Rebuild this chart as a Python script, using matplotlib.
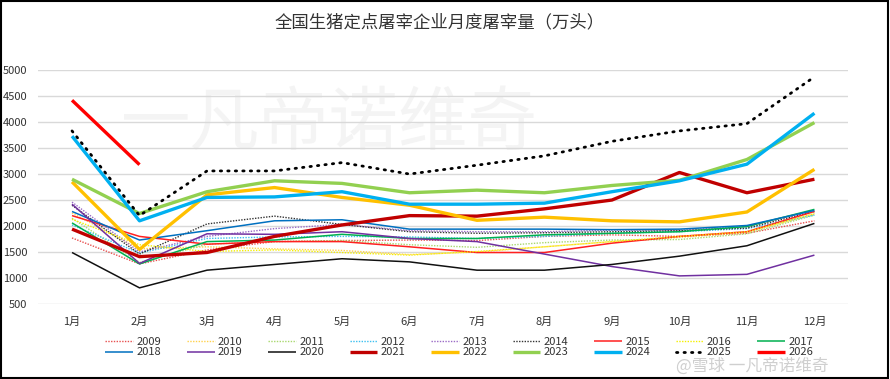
import matplotlib
matplotlib.use("Agg")
import matplotlib.pyplot as plt
from matplotlib.patches import Rectangle

plt.rcParams['font.family'] = ['Noto Sans CJK SC', 'DejaVu Sans']

months = ['1月', '2月', '3月', '4月', '5月', '6月', '7月', '8月', '9月', '10月', '11月', '12月']

y2009 = [1770, 1270, 1540, 1700, 1720, 1730, 1720, 1800, 1830, 1800, 1860, 2100]
y2010 = [2250, 1560, 1600, 1560, 1530, 1450, 1500, 1600, 1700, 1780, 1880, 2230]
y2011 = [2150, 1300, 1650, 1700, 1720, 1640, 1590, 1680, 1730, 1740, 1850, 2210]
y2012 = [2020, 1480, 1760, 1790, 1800, 1790, 1760, 1800, 1860, 1890, 1950, 2210]
y2013 = [2460, 1500, 1800, 1950, 2030, 1910, 1890, 1890, 1920, 1920, 1990, 2300]
y2014 = [2400, 1460, 2040, 2190, 2030, 1890, 1860, 1870, 1890, 1910, 1960, 2280]
y2015 = [2200, 1800, 1650, 1700, 1700, 1600, 1490, 1490, 1670, 1800, 1890, 2280]
y2016 = [2130, 1640, 1510, 1540, 1490, 1440, 1510, 1600, 1700, 1800, 1890, 2240]
y2017 = [2060, 1270, 1700, 1730, 1840, 1760, 1760, 1830, 1860, 1890, 1990, 2320]
y2018 = [2280, 1730, 1910, 2100, 2120, 1940, 1940, 1940, 1930, 1940, 2010, 2300]
y2019 = [2420, 1280, 1850, 1840, 1890, 1760, 1700, 1460, 1220, 1040, 1070, 1440]
y2020 = [1490, 810, 1150, 1260, 1370, 1310, 1150, 1150, 1260, 1420, 1620, 2050]
y2021 = [1940, 1410, 1490, 1800, 2020, 2200, 2190, 2330, 2500, 3030, 2640, 2900]
y2022 = [2850, 1550, 2600, 2740, 2550, 2400, 2110, 2170, 2100, 2080, 2270, 3090]
y2023 = [2900, 2240, 2660, 2870, 2820, 2640, 2690, 2640, 2780, 2880, 3280, 3990]
y2024 = [3730, 2100, 2550, 2560, 2660, 2420, 2420, 2440, 2660, 2870, 3190, 4170]
y2025 = [3830, 2200, 3060, 3060, 3220, 3000, 3170, 3350, 3630, 3830, 3970, 4870]
y2026 = [4420, 3180]

years = ['2009', '2010', '2011', '2012', '2013', '2014', '2015', '2016', '2017',
         '2018', '2019', '2020', '2021', '2022', '2023', '2024', '2025', '2026']
series = [y2009, y2010, y2011, y2012, y2013, y2014, y2015, y2016, y2017,
          y2018, y2019, y2020, y2021, y2022, y2023, y2024, y2025, y2026]

styles = {
    '2009': dict(color='#E8504F', lw=1.0, ls=(0, (1, 1))),
    '2010': dict(color='#FFD24D', lw=1.0, ls=(0, (1, 1))),
    '2011': dict(color='#A9D86E', lw=1.0, ls=(0, (1, 1))),
    '2012': dict(color='#3CC0F0', lw=1.0, ls=(0, (1, 1))),
    '2013': dict(color='#9B6BC6', lw=1.0, ls=(0, (1, 1))),
    '2014': dict(color='#333333', lw=1.0, ls=(0, (1, 1))),
    '2015': dict(color='#FF2020', lw=1.1, ls='-'),
    '2016': dict(color='#F5F000', lw=1.0, ls=(0, (1, 1))),
    '2017': dict(color='#00B050', lw=1.1, ls='-'),
    '2018': dict(color='#0070C0', lw=1.1, ls='-'),
    '2019': dict(color='#7030A0', lw=1.1, ls='-'),
    '2020': dict(color='#111111', lw=1.1, ls='-'),
    '2021': dict(color='#C00000', lw=2.4, ls='-'),
    '2022': dict(color='#FFC000', lw=2.4, ls='-'),
    '2023': dict(color='#92D050', lw=2.4, ls='-'),
    '2024': dict(color='#00B0F0', lw=2.4, ls='-'),
    '2025': dict(color='#000000', lw=2.0, ls=(0, (0.5, 2.2))),
    '2026': dict(color='#FF0000', lw=2.4, ls='-'),
}

fig = plt.figure(figsize=(8.9, 3.79), dpi=100)
ax = fig.add_axes([0.043, 0.198, 0.91, 0.617])

lines = {}
for yr, vals in zip(years, series):
    st = styles[yr]
    cap = 'round' if yr == '2025' else 'butt'
    ln, = ax.plot(months[:len(vals)], vals, color=st['color'], lw=st['lw'],
                  linestyle=st['ls'], dash_capstyle=cap, solid_capstyle='butt', label=yr)
    lines[yr] = ln

ax.set_ylim(500, 5000)
ax.set_xlim(-0.5, 11.5)
ax.set_yticks(range(500, 5001, 500))
ax.grid(axis='y', color='#D9D9D9', lw=1)
ax.set_axisbelow(True)
for s in ax.spines.values():
    s.set_visible(False)
ax.tick_params(axis='both', length=0, labelsize=8, colors='#333333')
ax.tick_params(axis='x', pad=9)
ax.tick_params(axis='y', pad=8)

# faint watermark inside the plot
ax.text(0.36, 0.77, '一凡帝诺维奇', transform=ax.transAxes, ha='center', va='center',
        fontsize=50, color='#F4F4F4', zorder=0)

fig.suptitle('全国生猪定点屠宰企业月度屠宰量（万头）', x=0.494, y=0.965, fontsize=12.5, color='#333333')

# legend: column-major order so that row 1 = 2009..2017, row 2 = 2018..2026
order = []
for i in range(9):
    order += [years[i], years[i + 9]]
leg = fig.legend([lines[y] for y in order], order, ncol=9, loc='center',
                 bbox_to_anchor=(0.516, 0.084), frameon=False, fontsize=8,
                 handlelength=2.5, handletextpad=0.3, columnspacing=2.3,
                 labelspacing=0.05)
for t in leg.get_texts():
    t.set_color('#333333')

fig.text(0.845, 0.033, '@雪球 一凡帝诺维奇', ha='center', va='center', fontsize=12,
         color='#BBBBBB', alpha=0.7)

fig.add_artist(Rectangle((0.001, 0.002), 0.997, 0.996, transform=fig.transFigure,
                         fill=False, edgecolor='#000000', lw=1.5))

fig.savefig('out.png', dpi=100)
